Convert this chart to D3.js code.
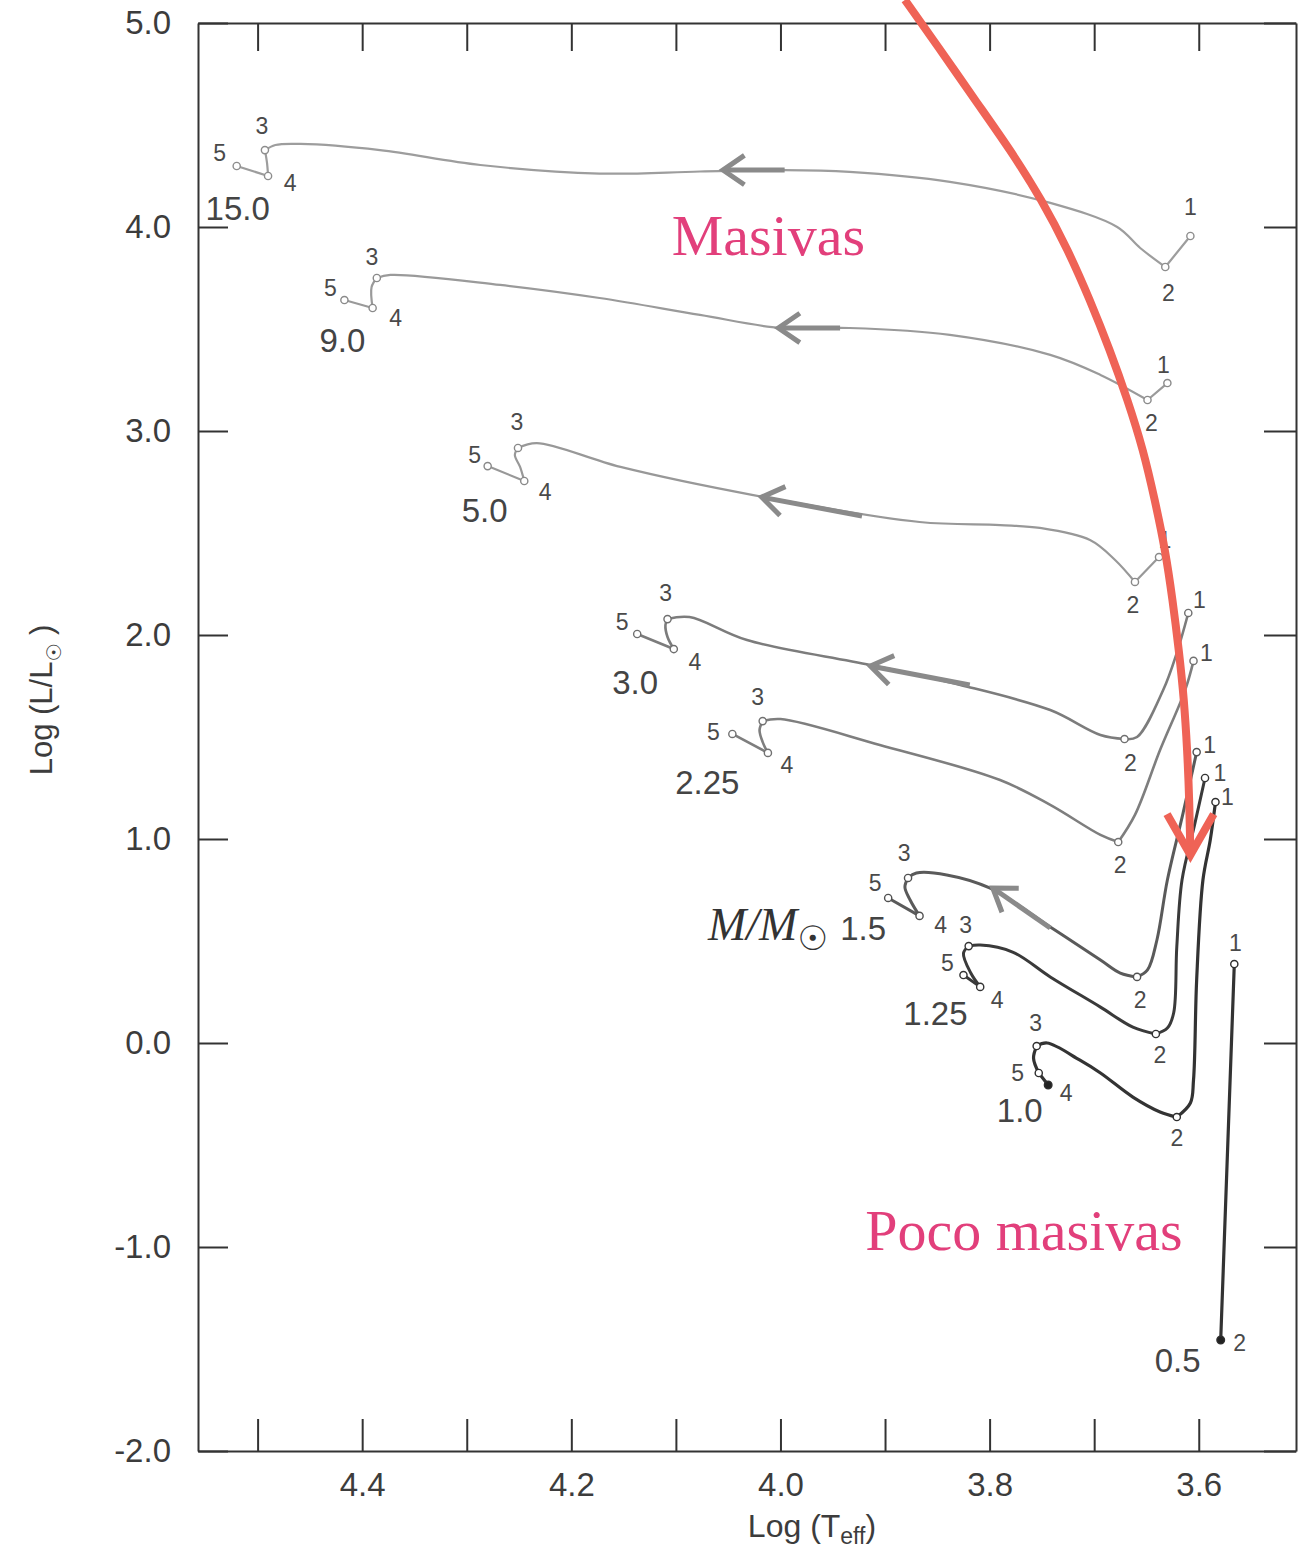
<!DOCTYPE html>
<html><head><meta charset="utf-8">
<script src="https://cdn.jsdelivr.net/npm/d3@7"></script>
<style>body{margin:0;background:#fff}</style>
</head><body>
<svg id="c" width="1312" height="1555"></svg>
<script>
// ---------------- DATA ----------------
const xTicks = [4.5,4.4,4.3,4.2,4.1,4.0,3.9,3.8,3.7,3.6];
const xTickLabels = ["","4.4","","4.2","","4.0","","3.8","","3.6"];
const yTicks = [-2,-1,0,1,2,3,4,5];
const yTickLabels = ["-2.0","-1.0","0.0","1.0","2.0","3.0","4.0","5.0"];
const masses = ["15.0","9.0","5.0","3.0","2.25","1.5","1.25","1.0","0.5"];

// [log Teff, log L/Lsun, keypoint]
const track_15_0 = [[3.608,3.956,"1"],[3.632,3.804,"2"],[3.656,3.897],[3.678,4.000],[3.742,4.118],[3.838,4.221],[3.934,4.270],[3.996,4.279],[4.077,4.272],[4.173,4.262],[4.287,4.304],[4.383,4.377],[4.459,4.407],[4.483,4.402],[4.493,4.377,"3"],[4.491,4.314],[4.490,4.250,"4"],[4.520,4.299,"5"]];
const track_9_0 = [[3.630,3.235,"1"],[3.649,3.152,"2"],[3.694,3.275],[3.742,3.373],[3.838,3.471],[3.934,3.505],[4.000,3.505],[4.077,3.569],[4.173,3.652],[4.268,3.716],[4.373,3.765],[4.386,3.750,"3"],[4.391,3.706],[4.390,3.603,"4"],[4.417,3.642,"5"]];
const track_5_0 = [[3.638,2.382,"1"],[3.661,2.260,"2"],[3.680,2.368],[3.704,2.466],[3.752,2.525],[3.790,2.539],[3.867,2.554],[4.026,2.686],[4.153,2.824],[4.233,2.941],[4.251,2.917,"3"],[4.254,2.882],[4.249,2.824],[4.245,2.755,"4"],[4.280,2.828,"5"]];
const track_3_0 = [[3.610,2.108,"1"],[3.621,1.912],[3.634,1.730],[3.659,1.500],[3.671,1.490,"2"],[3.694,1.510],[3.742,1.632],[3.828,1.755],[3.914,1.853],[4.032,1.975],[4.087,2.088],[4.108,2.078,"3"],[4.110,2.049],[4.108,1.990],[4.102,1.931,"4"],[4.137,2.005,"5"]];
const track_2_25 = [[3.605,1.873,"1"],[3.613,1.730],[3.637,1.436],[3.661,1.118],[3.677,0.985,"2"],[3.694,1.020],[3.742,1.167],[3.790,1.289],[3.905,1.461],[4.000,1.588],[4.017,1.578,"3"],[4.020,1.534],[4.017,1.475],[4.012,1.422,"4"],[4.046,1.515,"5"]];
const track_1_5 = [[3.602,1.426,"1"],[3.615,1.127],[3.630,0.799],[3.640,0.505],[3.649,0.358],[3.659,0.324,"2"],[3.675,0.343],[3.694,0.407],[3.742,0.569],[3.800,0.760],[3.841,0.824],[3.870,0.833],[3.878,0.809,"3"],[3.881,0.765],[3.876,0.701],[3.867,0.623,"4"],[3.897,0.711,"5"]];
const track_1_25 = [[3.594,1.299,"1"],[3.604,1.069],[3.616,0.799],[3.621,0.471],[3.624,0.147],[3.630,0.073],[3.641,0.044,"2"],[3.663,0.078],[3.694,0.176],[3.742,0.324],[3.778,0.446],[3.809,0.480],[3.820,0.475,"3"],[3.825,0.440],[3.818,0.343],[3.809,0.275,"4"],[3.825,0.333,"5"]];
const track_1_0 = [[3.584,1.181,"1"],[3.589,0.995],[3.596,0.799],[3.602,0.309],[3.605,-0.181],[3.608,-0.294],[3.621,-0.363,"2"],[3.637,-0.338],[3.663,-0.265],[3.694,-0.147],[3.714,-0.083],[3.745,0.000],[3.755,-0.015,"3"],[3.758,-0.074],[3.753,-0.147,"5"],[3.744,-0.206,"4"]];
const track_0_5 = [[3.566,0.387,"1"],[3.579,-1.456,"2"]];
const tracks = [track_15_0,track_9_0,track_5_0,track_3_0,track_2_25,track_1_5,track_1_25,track_1_0,track_0_5];

// direction arrows along tracks: [tail T, tail L, head T, head L]
const dirArrows = [[3.996,4.279,4.055,4.279],[3.943,3.505,4.002,3.505],[3.922,2.583,4.018,2.676],[3.819,1.755,3.914,1.848],[3.742,0.564,3.797,0.760]];
// big red arc (annotation), [log Teff, log L]
const redArc = [[3.881,5.113],[3.847,4.868],[3.814,4.623],[3.780,4.377],[3.750,4.132],[3.725,3.887],[3.704,3.642],[3.685,3.397],[3.668,3.152],[3.653,2.907],[3.642,2.662],[3.632,2.417],[3.625,2.172],[3.619,1.926],[3.614,1.681],[3.611,1.436],[3.609,1.191],[3.608,0.922]];
const notes = [["Masivas",4.104,3.863],["Poco masivas",3.919,-1.015]];

// ---------------- LAYOUT / STYLE ----------------
const W = 1312, H = 1555;
const x = d3.scaleLinear().domain([4.557,3.507]).range([198,1296]);
const y = d3.scaleLinear().domain([-2,5]).range([1451,23]);
const trackStyle = {
 "15.0":{c:"#9d9d9d",w:2.2},"9.0":{c:"#9a9a9a",w:2.2},"5.0":{c:"#989898",w:2.2},
 "3.0":{c:"#7c7c7c",w:2.6},"2.25":{c:"#7e7e7e",w:2.6},"1.5":{c:"#5a5a5a",w:3},
 "1.25":{c:"#3a3a3a",w:3},"1.0":{c:"#333",w:3.2},"0.5":{c:"#333",w:3.2}
};
const filledPts = {"1.0":["4"],"0.5":["2"]};
const labelLayout = {
 "15.0":{"1":[0,-29],"2":[3,26],"3":[-3,-24],"4":[22,7],"5":[-17,-13],m:[1,42,"5"]},
 "9.0":{"1":[-4,-18],"2":[4,23],"3":[-5,-21],"4":[23,10],"5":[-14,-12],m:[-2,40,"5"]},
 "5.0":{"1":[6,-17],"2":[-2,23],"3":[-1,-26],"4":[21,11],"5":[-13,-11],m:[-3,44,"5"]},
 "3.0":{"1":[11,-13],"2":[6,24],"3":[-2,-26],"4":[21,13],"5":[-15,-12],m:[-2,48,"5"]},
 "2.25":{"1":[13,-8],"2":[2,23],"3":[-5,-24],"4":[19,12],"5":[-19,-2],m:[-25,48,"5"]},
 "1.5":{"1":[13,-7],"2":[3,23],"3":[-4,-25],"4":[21,9],"5":[-13,-15],m:[-25,30,"5"]},
 "1.25":{"1":[15,-5],"2":[4,21],"3":[-3,-21],"4":[17,13],"5":[-16,-12],m:[-28,38,"5"]},
 "1.0":{"1":[12,-5],"2":[0,21],"3":[-1,-23],"4":[18,8],"5":[-21,0],m:[-19,37,"5"]},
 "0.5":{"1":[1,-21],"2":[19,3],m:[-43,20,"2"]}
};
const sans = "'Liberation Sans', Arial, Helvetica, sans-serif";
const serif = "'Liberation Serif', 'Times New Roman', serif";

const svg = d3.select("#c");
svg.append("rect").attr("width",W).attr("height",H).attr("fill","#fff");

// axes
const ax = svg.append("g").attr("font-family",sans);
function styleAxis(g){
  g.select(".domain").attr("stroke","#333").attr("stroke-width",2);
  g.selectAll(".tick line").attr("stroke","#333").attr("stroke-width",2);
  g.selectAll(".tick text").attr("fill","#3c3c3c").attr("font-size",33).attr("font-family",sans);
}
ax.append("g").attr("transform",`translate(0,${y(-2)})`)
  .call(d3.axisBottom(x).tickValues(xTicks).tickSize(-32).tickSizeOuter(0).tickPadding(22).tickFormat((d,i)=>xTickLabels[i]))
  .call(styleAxis);
ax.append("g").attr("transform",`translate(0,${y(5)})`)
  .call(d3.axisTop(x).tickValues(xTicks).tickSize(-28).tickSizeOuter(0).tickFormat(""))
  .call(styleAxis);
ax.append("g").attr("transform",`translate(${x(4.557)},0)`)
  .call(d3.axisLeft(y).tickValues(yTicks).tickSize(-30).tickSizeOuter(0).tickPadding(27).tickFormat((d,i)=>yTickLabels[i]))
  .call(styleAxis);
ax.append("g").attr("transform",`translate(${x(3.507)},0)`)
  .call(d3.axisRight(y).tickValues(yTicks).tickSize(-32).tickSizeOuter(0).tickFormat(""))
  .call(styleAxis);

// axis titles
const xt = svg.append("text").attr("x",812).attr("y",1537).attr("text-anchor","middle")
  .attr("font-family",sans).attr("font-size",32).attr("fill","#3c3c3c");
xt.append("tspan").text("Log (T");
xt.append("tspan").attr("font-size",23).attr("dy",7).text("eff");
xt.append("tspan").attr("dy",-7).text(")");
const yt = svg.append("text").attr("transform","translate(52,700) rotate(-90)").attr("text-anchor","middle")
  .attr("font-family",sans).attr("font-size",31).attr("fill","#3c3c3c");
yt.append("tspan").text("Log (L/L");
yt.append("tspan").attr("font-size",20).attr("dy",9).attr("font-family","'DejaVu Sans', sans-serif").text("☉");
yt.append("tspan").attr("dy",-9).text(" )");

// tracks
const line = d3.line().x(d=>x(d[0])).y(d=>y(d[1])).curve(d3.curveCatmullRom.alpha(0.5));
const gT = svg.append("g");
tracks.forEach((pts,ti)=>{
  const m = masses[ti], st = trackStyle[m];
  let seg = [pts[0]];
  const segs = [];
  for(let i=1;i<pts.length;i++){
    seg.push(pts[i]);
    if(pts[i][2]){ segs.push(seg); seg=[pts[i]]; }
  }
  if(seg.length>1) segs.push(seg);
  segs.forEach(s=>{
    gT.append("path").attr("d",line(s)).attr("fill","none").attr("stroke",st.c)
      .attr("stroke-width",st.w).attr("stroke-linejoin","round").attr("stroke-linecap","round");
  });
});
tracks.forEach((pts,ti)=>{
  const m = masses[ti], st = trackStyle[m], lay = labelLayout[m];
  pts.filter(p=>p[2]).forEach(p=>{
    const filled = (filledPts[m]||[]).includes(p[2]);
    gT.append("circle").attr("cx",x(p[0])).attr("cy",y(p[1])).attr("r",filled?3.8:3.6)
      .attr("fill",filled?"#222":"#fff").attr("stroke",d3.color(st.c).darker(0.3)).attr("stroke-width",1.4);
    const o = lay[p[2]];
    gT.append("text").attr("x",x(p[0])+o[0]).attr("y",y(p[1])+o[1]).attr("dy","0.36em")
      .attr("text-anchor","middle").attr("font-family",sans).attr("font-size",23).attr("fill","#4a4a4a").text(p[2]);
  });
  const mo = lay.m, ref = pts.find(p=>p[2]===mo[2]);
  gT.append("text").attr("x",x(ref[0])+mo[0]).attr("y",y(ref[1])+mo[1]).attr("dy","0.36em")
    .attr("text-anchor","middle").attr("font-family",sans).attr("font-size",33).attr("fill","#444").text(m);
});

// direction arrows
function arrowHead(g,tx,ty,ang,len,spread,color,w){
  const a1 = ang+Math.PI-spread, a2 = ang+Math.PI+spread;
  g.append("path").attr("d",`M${tx+len*Math.cos(a1)},${ty+len*Math.sin(a1)}L${tx},${ty}L${tx+len*Math.cos(a2)},${ty+len*Math.sin(a2)}`)
    .attr("fill","none").attr("stroke",color).attr("stroke-width",w).attr("stroke-linejoin","miter");
}
const gA = svg.append("g");
dirArrows.forEach(a=>{
  const x0=x(a[0]),y0=y(a[1]),x1=x(a[2]),y1=y(a[3]);
  gA.append("line").attr("x1",x0).attr("y1",y0).attr("x2",x1).attr("y2",y1).attr("stroke","#8a8a8a").attr("stroke-width",5);
  arrowHead(gA,x1,y1,Math.atan2(y1-y0,x1-x0),26,0.6,"#8a8a8a",5);
});

// M/Msun label
const mm = svg.append("text").attr("x",708).attr("y",940).attr("font-family",serif).attr("font-style","italic")
  .attr("font-size",46).attr("fill","#333");
mm.append("tspan").text("M/M");
mm.append("tspan").attr("font-style","normal").attr("font-family","'DejaVu Sans', sans-serif").attr("font-size",34).attr("dy",10).text("☉");

// notes
notes.forEach(n=>{
  svg.append("text").attr("x",x(n[1])).attr("y",y(n[2])).attr("font-family",serif)
    .attr("font-size",58).attr("fill","#e23f7b").text(n[0]);
});

// red arc
const red = "#ef6356";
const redLine = d3.line().x(d=>x(d[0])).y(d=>y(d[1])).curve(d3.curveBasis);
svg.append("path").attr("d",redLine(redArc)).attr("fill","none").attr("stroke",red).attr("stroke-width",8).attr("stroke-linecap","butt");
const tip = redArc[redArc.length-1];
arrowHead(svg,x(tip[0]),y(tip[1]),Math.PI/2,47,0.52,red,8);
</script>
</body></html>
